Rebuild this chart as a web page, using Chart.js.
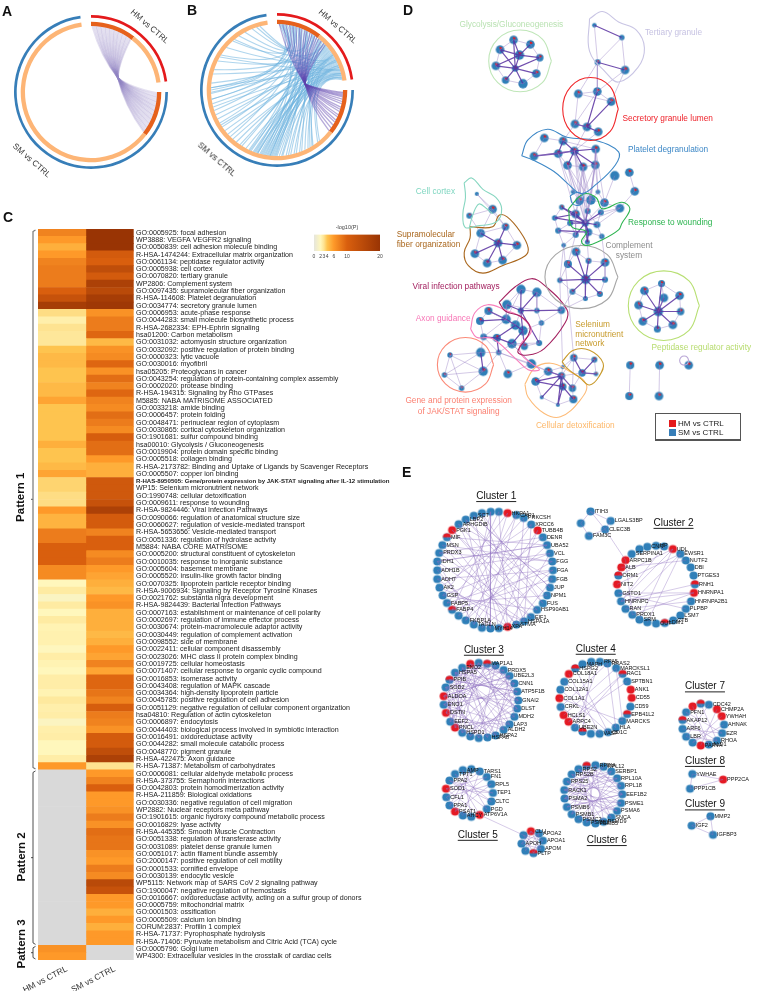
<!DOCTYPE html>
<html>
<head>
<meta charset="utf-8">
<title>Pathway enrichment figure</title>
<script src="https://cdn.jsdelivr.net/npm/chart.js@4"></script>
<style>
  html, body { margin: 0; padding: 0; background: #fff; }
  #page { position: relative; width: 759px; height: 991px; overflow: hidden; font-family: "Liberation Sans", Arial, sans-serif; }
  #page canvas { position: absolute; }
  .letter { position: absolute; font-weight: bold; font-size: 14px; color: #111; line-height: 14px; }
  .arcname { position: absolute; font-size: 8.3px; color: #333; white-space: nowrap; transform: translate(-50%, -50%) rotate(41deg); }
  #key { position: absolute; left: 655px; top: 413px; width: 84px; height: 25px; border: 1px solid #555; border-bottom-width: 2px; font-size: 8px; color: #222; }
  #key i { position: absolute; left: 13px; width: 7px; height: 7px; }
  #key span { position: absolute; left: 22px; line-height: 9px; }
</style>
</head>
<body>
<div id="page">
  <canvas id="chordA" style="left:6px;top:7px"></canvas>
  <canvas id="chordB" style="left:192px;top:5px"></canvas>
  <canvas id="heat" style="left:0;top:222px"></canvas>
  <canvas id="scaleBar" style="left:300px;top:224px"></canvas>
  <canvas id="networkD" style="left:390px;top:0"></canvas>
  <canvas id="networkE" style="left:390px;top:455px"></canvas>
  <div class="letter" style="left:2px;top:4px">A</div>
  <div class="letter" style="left:187px;top:3px">B</div>
  <div class="letter" style="left:3px;top:210px">C</div>
  <div class="letter" style="left:403px;top:3px">D</div>
  <div class="letter" style="left:402px;top:465px">E</div>
  <div class="arcname" style="left:150px;top:26px">HM vs CTRL</div>
  <div class="arcname" style="left:32px;top:160px">SM vs CTRL</div>
  <div class="arcname" style="left:338px;top:26px">HM vs CTRL</div>
  <div class="arcname" style="left:217px;top:159px">SM vs CTRL</div>
  <div id="key">
    <i style="top:6px;background:#e41a1c"></i><span style="top:5px">HM vs CTRL</span>
    <i style="top:15px;background:#377eb8"></i><span style="top:14px">SM vs CTRL</span>
  </div>
</div>
<script>
Chart.defaults.animation = false;
Chart.defaults.font.family = '"Liberation Sans", Arial, sans-serif';
Chart.defaults.plugins.legend.display = false;
Chart.defaults.plugins.tooltip.enabled = false;

// ---- panels A, B: arc lengths in degrees, clockwise from 12 o'clock
const outerArc = [82, 8, 262, 8];
const innerArc = [38, 44, 8, 38, 224, 8];
const outerColors = ['#e41a1c', 'rgba(0,0,0,0)', '#377eb8', 'rgba(0,0,0,0)'];
const innerColors = ['#e6611c', '#fdb576', 'rgba(0,0,0,0)', '#e6611c', '#fdb576', 'rgba(0,0,0,0)'];

// shared genes, HM end and SM end of each chord
const sharedHm = [1, 2.5, 4, 5, 6.5, 8, 9, 10.5, 12, 13, 14.5, 16, 17, 18.5, 20, 21, 22.5, 24, 25, 26.5, 28, 29, 30.5, 32, 33, 34.5, 36, 37];
const sharedSm = [127, 126, 124.5, 123, 122, 120.5, 119, 118, 116.5, 115, 114, 112.5, 111, 110, 108.5, 107, 106, 104.5, 103, 102, 100.5, 99, 98, 96.5, 95, 94, 92.5, 91];

// wider overlap of panel B: HM end and SM end of each blue chord
const blueHm = [3, 5, 7, 9, 11, 13, 14, 16, 18, 20, 21, 23, 25, 27, 28, 30, 32, 34, 35, 37, 39, 40, 42, 43, 45, 46, 48, 49, 50, 51, 52, 53, 54, 55, 56, 57, 58, 59, 60, 61, 62, 63, 64, 64.5, 65, 66, 67, 68, 68.5, 69, 70, 71, 72, 72.5, 73, 74, 75, 75.5, 76, 77, 77.5, 78, 79, 79.5, 80, 81, 4, 12, 19, 26, 33, 41, 47, 58, 63, 70, 76, 2, 6, 15];
const blueSm = [345, 331, 318, 302, 270, 252, 240, 225, 205, 190, 181, 172, 158, 147, 338, 288, 262, 236, 212, 197, 186, 176, 163, 150, 325, 296, 276, 258, 244, 228, 214, 201, 193, 184, 178, 168, 155, 142, 342, 310, 284, 268, 248, 232, 218, 204, 194, 187, 180, 170, 160, 148, 320, 300, 272, 255, 238, 222, 208, 198, 189, 183, 175, 165, 152, 140, 192, 199, 186, 203, 195, 188, 182, 200, 191, 185, 197, 267, 272, 262];
const purpleHm = [2, 5, 8, 11, 14, 17, 20, 22, 25, 27, 30, 32, 35, 37, 39, 42, 45, 47];
const purpleSm = [128, 125, 122, 119, 117, 114, 112, 109, 107, 105, 102, 100, 98, 96, 95, 94, 93, 92];

// ---- panel C: -log10(P) per term, null means not enriched
const termLabels = [
  'GO:0005925: focal adhesion', 'WP3888: VEGFA VEGFR2 signaling', 'GO:0050839: cell adhesion molecule binding',
  'R-HSA-1474244: Extracellular matrix organization', 'GO:0061134: peptidase regulator activity', 'GO:0005938: cell cortex',
  'GO:0070820: tertiary granule', 'WP2806: Complement system', 'GO:0097435: supramolecular fiber organization',
  'R-HSA-114608: Platelet degranulation', 'GO:0034774: secretory granule lumen', 'GO:0006953: acute-phase response',
  'GO:0044283: small molecule biosynthetic process', 'R-HSA-2682334: EPH-Ephrin signaling', 'hsa01200: Carbon metabolism',
  'GO:0031032: actomyosin structure organization', 'GO:0032092: positive regulation of protein binding', 'GO:0000323: lytic vacuole',
  'GO:0030016: myofibril', 'hsa05205: Proteoglycans in cancer', 'GO:0043254: regulation of protein-containing complex assembly',
  'GO:0002020: protease binding', 'R-HSA-194315: Signaling by Rho GTPases', 'M5885: NABA MATRISOME ASSOCIATED',
  'GO:0033218: amide binding', 'GO:0006457: protein folding', 'GO:0048471: perinuclear region of cytoplasm',
  'GO:0030865: cortical cytoskeleton organization', 'GO:1901681: sulfur compound binding', 'hsa00010: Glycolysis / Gluconeogenesis',
  'GO:0019904: protein domain specific binding', 'GO:0005518: collagen binding', 'R-HSA-2173782: Binding and Uptake of Ligands by Scavenger Receptors',
  'GO:0005507: copper ion binding', 'R-HAS-8950505: Gene/protein expression by JAK-STAT signaling after IL-12 stimulation', 'WP15: Selenium micronutrient network',
  'GO:1990748: cellular detoxification', 'GO:0009611: response to wounding', 'R-HSA-9824446: Viral Infection Pathways',
  'GO:0090066: regulation of anatomical structure size', 'GO:0060627: regulation of vesicle-mediated transport', 'R-HSA-5653656: Vesicle-mediated transport',
  'GO:0051336: regulation of hydrolase activity', 'M5884: NABA CORE MATRISOME', 'GO:0005200: structural constituent of cytoskeleton',
  'GO:0010035: response to inorganic substance', 'GO:0005604: basement membrane', 'GO:0005520: insulin-like growth factor binding',
  'GO:0070325: lipoprotein particle receptor binding', 'R-HSA-9006934: Signaling by Receptor Tyrosine Kinases', 'GO:0021762: substantia nigra development',
  'R-HSA-9824439: Bacterial Infection Pathways', 'GO:0007163: establishment or maintenance of cell polarity', 'GO:0002697: regulation of immune effector process',
  'GO:0030674: protein-macromolecule adaptor activity', 'GO:0030449: regulation of complement activation', 'GO:0098552: side of membrane',
  'GO:0022411: cellular component disassembly', 'GO:0023026: MHC class II protein complex binding', 'GO:0019725: cellular homeostasis',
  'GO:0071407: cellular response to organic cyclic compound', 'GO:0016853: isomerase activity', 'GO:0043408: regulation of MAPK cascade',
  'GO:0034364: high-density lipoprotein particle', 'GO:0045785: positive regulation of cell adhesion', 'GO:0051129: negative regulation of cellular component organization',
  'hsa04810: Regulation of actin cytoskeleton', 'GO:0006897: endocytosis', 'GO:0044403: biological process involved in symbiotic interaction',
  'GO:0016491: oxidoreductase activity', 'GO:0044282: small molecule catabolic process', 'GO:0048770: pigment granule',
  'R-HSA-422475: Axon guidance', 'R-HSA-71387: Metabolism of carbohydrates', 'GO:0006081: cellular aldehyde metabolic process',
  'R-HSA-373755: Semaphorin interactions', 'GO:0042803: protein homodimerization activity', 'R-HSA-211859: Biological oxidations',
  'GO:0030336: negative regulation of cell migration', 'WP2882: Nuclear receptors meta pathway', 'GO:1901615: organic hydroxy compound metabolic process',
  'GO:0016829: lyase activity', 'R-HSA-445355: Smooth Muscle Contraction', 'GO:0051338: regulation of transferase activity',
  'GO:0031089: platelet dense granule lumen', 'GO:0051017: actin filament bundle assembly', 'GO:2000147: positive regulation of cell motility',
  'GO:0001533: cornified envelope', 'GO:0030139: endocytic vesicle', 'WP5115: Network map of SARS CoV 2 signaling pathway',
  'GO:1900047: negative regulation of hemostasis', 'GO:0016667: oxidoreductase activity, acting on a sulfur group of donors', 'GO:0005759: mitochondrial matrix',
  'GO:0001503: ossification', 'GO:0005509: calcium ion binding', 'CORUM:2837: Profilin 1 complex',
  'R-HSA-71737: Pyrophosphate hydrolysis', 'R-HSA-71406: Pyruvate metabolism and Citric Acid (TCA) cycle', 'GO:0005796: Golgi lumen',
  'WP4300: Extracellular vesicles in the crosstalk of cardiac cells'
];
const hmValues = [
  7.5, 6, 5, 6, 7.5, 8, 8, 8, 10, 13, 18,
  3.2, 2.4, 3, 2.8, 2.8, 4, 4.5, 4.5, 4, 4, 4.5, 4.5, 5.5, 4, 4, 4, 4, 4, 5, 4, 4, 4.5, 5.5,
  3.5, 3.5, 3.2, 3.2, 6, 4.8, 4.8, 8, 8, 10, 10, 10, 7, 7,
  2, 2.6, 1.6, 2.6, 2, 2.6, 2.2, 2.3, 2.3, 1.9, 2.5, 2.2, 2, 2.5, 2.5, 2.2, 2.7, 2.4, 2.5, 1.7, 2.4, 2.5, 2, 2, 2.5, 6,
  null, null, null, null, null, null, null, null, null, null, null, null, null, null, null, null, null, null, null, null, null, null, null, null,
  6.5, 6
];
const smValues = [
  20, 20, 20, 11, 10, 14, 11, 17, 15, 18, 19,
  6.5, 8, 8, 9.5, 4.5, 6.5, 7, 9.5, 6.5, 9, 7.5, 9.5, 7.5, 7, 9, 8, 7, 10.5, 9, 9, 6, 5, 5,
  11.5, 11.5, 11.5, 13, 17, 11, 11, 7.5, 10, 10, 7, 8, 6, 5.5,
  5, 4.5, 6, 6.5, 5, 5, 5, 4.5, 5, 6, 5.5, 7.5, 5.5, 9.5, 9.5, 8.5, 7.5, 10.5, 8, 7.5, 6.5, 11, 11, 14, 17, 3,
  6, 7.5, 10, 6, 6, 6.5, 8, 6.5, 9, 8.5, 8.5, 6.5, 6, 8, 7, 15, 13, 6, 6, 5, 6, 5, 6, 6,
  null, null
];
const heatColumns = ['HM vs CTRL', 'SM vs CTRL'];
const patternNames = ['Pattern 1', 'Pattern 2', 'Pattern 3'];
const patternFirstRow = [0, 74, 98];
const patternLastRow = [73, 97, 99];
const patternLabelRow = [36.2, 85.4, 97.3];
const scaleTicks = [0, 2, 3, 4, 6, 10, 20];
const scaleStops = [0, 2, 3, 4, 6, 10, 20];
const scaleColors = ['#e6e6dc', '#fff7bc', '#fee391', '#fec44f', '#fe9929', '#d95f0e', '#993404'];

// ---- panel D: nodes are [x, y, radius, kind]; b plain, w carries a red HM wedge
const glyNodes = [[365,105,4.3,'w'],[417,119,4.3,'w'],[323,135,4.3,'w'],[383,152,4.7,'w'],[446,160,3.7,'w'],[310,185,4.3,'w'],[370,193,3.3,'w'],[435,209,4.3,'w'],[340,229,3.7,'w'],[394,240,4.7,'b']];
const terNodes = [[615,60,2.3,'b'],[700,98,2.7,'b'],[625,174,3,'w'],[710,198,4.3,'w']];
const secNodes = [[565,271,4.3,'w'],[624,264,4.3,'w'],[667,295,4.3,'w'],[555,364,4.3,'w'],[592,373,4.3,'w'],[627,388,4.3,'w']];
const pltNodes = [[460,407,4.3,'w'],[518,416,4.3,'w'],[503,455,4.3,'w'],[553,447,4.3,'w'],[619,441,4.3,'w'],[428,463,4.3,'w'],[532,491,4.3,'w'],[580,496,4.3,'w'],[618,490,4.3,'w']];
const topNodes = [[678,523,4.7,'b'],[723,513,4.3,'w'],[740,571,4.3,'w']];
const midNodes = [[549,573,2.3,'b'],[626,573,2.3,'b'],[569,600,4.3,'w'],[604,598,4.7,'b'],[646,606,4.3,'w'],[694,623,4.3,'b'],[514,620,2.7,'w'],[557,641,4.3,'w'],[594,632,3,'w'],[635,636,3,'b'],[492,653,2.7,'b'],[540,669,3,'b'],[587,668,3.7,'b'],[623,674,3.3,'b'],[503,692,3,'b'],[557,705,3,'b'],[597,697,3.7,'b'],[638,710,2.7,'b'],[593,727,2.5,'w'],[520,737,2.3,'b']];
const corNodes = [[251,579,2,'b'],[300,626,4.3,'w'],[228,646,3,'w']];
const supNodes = [[263,700,4.3,'b'],[340,680,3.7,'w'],[317,730,4.3,'w'],[375,737,4.3,'w'],[245,763,4.3,'w'],[283,792,4.3,'w'],[331,783,4.3,'w']];
const comNodes = [[558,757,4.3,'w'],[533,795,4,'w'],[597,785,3,'w'],[648,790,4.3,'w'],[508,845,2.7,'w'],[588,842,4.7,'w'],[648,843,3,'b'],[547,880,3,'w'],[632,887,3,'w'],[587,901,2.5,'b']];
const pepNodes = [[823,855,3.5,'w'],[770,877,4.3,'w'],[879,892,4.3,'w'],[830,899,4.3,'b'],[752,921,4.3,'w'],[813,941,4.7,'w'],[882,941,3.7,'w'],[765,971,4.3,'w'],[858,982,4.3,'w'],[810,995,3.5,'w']];
const virNodes = [[388,873,4.7,'b'],[437,882,4.7,'b'],[344,920,4.7,'b'],[387,938,3,'b'],[437,938,2.7,'b'],[513,937,3.7,'b'],[451,976,2.7,'b'],[444,1038,3,'b'],[398,1048,3.7,'w']];
const axoNodes = [[287,939,4,'w'],[261,970,4,'w'],[342,965,4.7,'b'],[371,983,4.7,'b'],[394,1000,4.7,'b'],[272,1019,3.3,'b'],[313,1022,4,'w'],[360,1040,4.7,'b'],[319,1067,2.7,'b'],[420,1102,4.7,'b'],[347,1133,4.3,'w']];
const jakNodes = [[263,1067,4.7,'b'],[168,1075,2.7,'w'],[271,1125,4.7,'w'],[151,1136,2.7,'w'],[204,1177,2.7,'w']];
const selNodes = [[551,1083,3.7,'w'],[615,1089,3,'w'],[577,1130,3.7,'w'],[620,1133,2.3,'w'],[517,1112,2,'b']];
const detNodes = [[472,1125,4.3,'w'],[433,1156,4.3,'w'],[513,1139,3.7,'w'],[517,1172,3.7,'w'],[547,1177,3.7,'w'],[452,1205,2,'b'],[502,1228,2,'b'],[550,1211,4,'w']];
const pairNodes = [[726,1106,4,'w'],[723,1201,4,'w'],[817,1106,4.3,'w'],[815,1201,4.3,'w'],[907,1106,4.3,'w']];

const strongEdges = {
  gly: [[3,0],[3,1],[3,2],[3,4],[3,6],[3,5],[6,0],[6,5],[6,7],[6,8],[6,9],[6,2],[6,4]],
  sec: [[1,4],[2,4],[4,5],[3,4]],
  plt: [[3,1],[3,2],[3,4],[3,5],[3,6],[3,7],[3,8],[2,5],[2,1]],
  mid: [[12,7],[12,8],[12,11],[12,13],[12,15],[12,16],[12,18],[12,10],[12,6],[12,9],[7,10],[7,6],[16,18],[16,14]],
  sup: [[2,0],[2,1],[2,3],[2,4],[2,5],[2,6]],
  com: [[5,0],[5,1],[5,2],[5,3],[5,4],[5,6],[5,7],[5,8],[5,9]],
  pep: [[5,0],[5,1],[5,2],[5,3],[5,4],[5,6],[5,7],[5,8],[5,9]],
  vir: [[0,3],[1,3],[3,4],[4,5],[2,3],[3,7],[3,8]],
  axo: [[0,2],[1,2],[2,3],[3,4],[3,6],[6,7],[4,7],[5,6],[6,8]],
  jak: [[0,2]],
  sel: [[0,2],[2,3],[1,2]],
  det: [[2,0],[2,1],[2,3],[2,4],[2,5],[2,6],[3,7],[3,1],[3,6]],
  ter: [[0,1],[2,3]]
};
const weakEdges = {
  gly: [[0,1],[1,4],[4,7],[7,9],[9,8],[8,5],[5,2],[2,0]],
  ter: [[0,2],[1,2],[1,3]],
  sec: [[0,1],[0,2],[1,2],[0,3],[3,4],[1,3]],
  plt: [[0,1],[0,5],[4,8],[6,7],[7,8],[2,6],[1,4],[5,3]],
  mid: [[2,3],[3,4],[4,5],[2,7],[3,8],[4,9],[5,9],[0,2],[1,3],[1,4],[6,10],[10,14],[14,19],[15,19],[17,13],[5,13],[11,14],[16,17],[2,12],[3,12],[4,12],[5,12],[8,13],[7,15],[11,15],[9,13],[14,15]],
  sup: [[0,1],[0,4],[4,5],[5,6],[6,3],[1,3]],
  com: [[0,1],[0,2],[2,3],[3,6],[6,8],[8,9],[9,7],[7,4],[4,1]],
  pep: [[0,1],[0,2],[1,4],[2,6],[4,7],[6,8],[7,9],[8,9],[3,0],[3,5]],
  vir: [[0,1],[0,2],[1,5],[5,6],[6,7],[7,8],[2,4],[1,4],[4,6]],
  axo: [[0,1],[1,5],[5,8],[7,9],[8,9],[8,7],[9,10],[0,3],[2,5]],
  jak: [[0,1],[1,3],[3,4],[4,2],[1,2],[0,3],[3,2],[1,4]],
  sel: [[0,1],[1,3],[0,4],[3,2]],
  det: [[0,1],[0,2],[1,5],[5,6],[6,7],[7,4],[4,2]],
  pair: [[0,1],[2,3]]
};
// links between two modules: group, node, group, node
const crossEdges = [
  ['ter',2,'sec',0],['ter',2,'sec',1],['ter',3,'sec',1],['ter',3,'sec',2],['sec',5,'plt',3],['sec',4,'plt',3],['sec',3,'plt',1],
  ['plt',6,'mid',0],['plt',6,'mid',2],['plt',6,'mid',3],['plt',7,'mid',2],['plt',7,'mid',3],['plt',7,'mid',8],['plt',8,'mid',3],['plt',8,'mid',1],
  ['plt',3,'mid',2],['plt',3,'mid',3],['plt',3,'mid',12],['plt',2,'mid',0],['plt',2,'mid',7],['plt',4,'mid',1],['plt',4,'mid',3],['plt',8,'mid',8],['plt',6,'mid',12],['plt',7,'mid',12],
  ['plt',3,'mid',8],['plt',7,'mid',7],['plt',8,'mid',2],['plt',4,'mid',4],['plt',6,'mid',8],['plt',8,'mid',12],
  ['top',1,'top',2],['top',0,'mid',4],['top',2,'mid',5],
  ['cor',1,'sup',0],['cor',1,'sup',1],['cor',2,'sup',0],['cor',0,'cor',1],['cor',0,'sup',1],['cor',2,'cor',1],
  ['mid',19,'com',4],['mid',18,'com',2],['mid',16,'com',0],['mid',15,'com',1],['mid',17,'com',3],
  ['mid',19,'sel',0],['com',4,'sel',4],['com',7,'vir',5],['vir',5,'com',9],
  ['vir',2,'axo',2],['vir',3,'axo',3],['vir',7,'axo',7],['vir',8,'axo',4],['vir',6,'axo',4],['vir',8,'axo',7],['vir',0,'axo',2],
  ['axo',5,'jak',0],['axo',8,'jak',0],['axo',8,'jak',2],['axo',8,'axo',10],['axo',9,'det',0],['axo',8,'det',0],['axo',7,'axo',9],
  ['sel',0,'det',2],['sel',4,'det',2],['sel',2,'det',4],['sel',0,'det',4],['sel',2,'det',2],['sel',4,'det',0]
];
const groupNodes = { gly: glyNodes, ter: terNodes, sec: secNodes, plt: pltNodes, top: topNodes, mid: midNodes, cor: corNodes, sup: supNodes, com: comNodes, pep: pepNodes, vir: virNodes, axo: axoNodes, jak: jakNodes, sel: selNodes, det: detNodes, pair: pairNodes };

// module outlines, closed by repeating the first point
const moduleOutlines = [
  ['#bfe6b8', [[482,170],[454,237],[385,265],[316,237],[288,170],[316,103],[385,75],[454,103],[482,170]]],
  ['#c9c5e4', [[600,40],[640,18],[690,50],[745,75],[770,130],[750,190],[690,235],[650,205],[600,140],[600,40]]],
  ['#f0272a', [[689,318],[664,387],[603,415],[542,387],[517,318],[542,249],[603,221],[664,249],[689,318]]],
  ['#3c87c6', [[390,462],[410,412],[470,380],[530,405],[620,415],[690,450],[680,490],[620,550],[575,578],[530,545],[490,510],[430,477],[390,462]]],
  ['#3c87c6', [[540,585],[560,575],[580,585],[572,612],[548,610],[540,585]]],
  ['#2cb44f', [[535,625],[580,580],[620,590],[640,625],[700,605],[725,625],[700,670],[690,690],[640,720],[590,738],[575,725],[590,695],[545,680],[535,625]]],
  ['#86d6c0', [[212,545],[235,530],[270,565],[310,590],[328,625],[312,665],[250,678],[215,682],[208,640],[216,590],[212,545]]],
  ['#86d6c0', [[228,682],[240,640],[258,610],[282,625],[300,640]]],
  ['#a9661c', [[230,680],[300,680],[320,645],[345,650],[385,695],[410,745],[400,770],[330,800],[270,823],[225,800],[212,760],[230,715],[230,680]]],
  ['#a6a6a6', [[688,835],[655,904],[575,932],[495,904],[462,835],[495,766],[575,738],[655,766],[688,835]]],
  ['#b7df72', [[940,923],[908,999],[830,1030],[752,999],[720,923],[752,847],[830,816],[908,847],[940,923]]],
  ['#a3205f', [[320,913],[370,865],[420,840],[460,860],[530,935],[525,975],[460,1055],[410,1075],[378,1065],[410,1015],[415,985],[385,955],[340,940],[320,913]]],
  ['#f87fbc', [[232,995],[245,945],[285,920],[340,937],[390,960],[420,1000],[385,1045],[390,1075],[420,1100],[445,1120],[410,1120],[370,1085],[300,1025],[250,1020],[232,995]]],
  ['#fb8a78', [[303,1105],[278,1164],[216,1189],[154,1164],[129,1105],[154,1046],[216,1021],[278,1046],[303,1105]]],
  ['#c89a2c', [[515,1095],[550,1060],[600,1060],[642,1100],[630,1140],[600,1167],[570,1145],[530,1115],[515,1095]]],
  ['#fdbb78', [[400,1165],[430,1115],[480,1100],[530,1120],[590,1165],[570,1215],[510,1265],[460,1255],[410,1205],[400,1165]]],
  ['#b9a6d6', [[907,1092],[903,1102],[893,1106],[883,1102],[879,1092],[883,1082],[893,1078],[903,1082],[907,1092]]]
];
const moduleLabels = [
  ['Glycolysis/Gluconeogenesis', 358, 57, '#b9e2b2', 'center'], ['Tertiary granule', 860, 82, '#c6c2e2', 'center'],
  ['Secretory granule lumen', 842, 349, '#ee1c25', 'center'], ['Platelet degranulation', 843, 444, '#3c87c6', 'center'],
  ['Cell cortex', 123, 573, '#7fd6c0', 'center'], ['Response to wounding', 850, 668, '#2cb44f', 'center'],
  ['Supramolecular', 0, 705, '#a9661c', 'left'], ['fiber organization', 0, 735, '#a9661c', 'left'],
  ['Complement', 722, 739, '#8c8c8c', 'center'], ['system', 722, 770, '#8c8c8c', 'center'],
  ['Viral infection pathways', 187, 865, '#a3205f', 'center'], ['Axon guidance', 147, 963, '#f776b6', 'center'],
  ['Selenium', 553, 981, '#c79a2a', 'left'], ['micronutrient', 553, 1011, '#c79a2a', 'left'], ['network', 553, 1041, '#c79a2a', 'left'],
  ['Peptidase regulator activity', 946, 1052, '#b7dc6f', 'center'],
  ['Gene and protein expression', 195, 1217, '#fb8072', 'center'], ['of JAK/STAT signaling', 195, 1248, '#fb8072', 'center'],
  ['Cellular detoxification', 556, 1291, '#fdb768', 'center']
];

// ---- panel E: nodes are [x, y, kind, gene]; b SM only, r both, h half and half
const cluster1 = [[295,158,'b',''],[320,158,'b',''],[347,162,'r','HKPA1'],[374,168,'b','CAP1'],[397,177,'b','PRKCSH'],[420,197,'b','XRCC6'],[440,215,'r','TUBB4B'],[456,236,'b','DENR'],[469,260,'b','UBA52'],[478,285,'b','VCL'],[485,310,'b','FGG'],[487,337,'b','FGA'],[485,364,'b','FGB'],[478,390,'b','JUP'],[469,414,'b','NPM1'],[456,438,'b','FUS'],[438,458,'b','HSP90AB1'],[419,480,'b','EIF1'],[398,493,'b','HSPA1A'],[374,503,'b','STMA'],[347,510,'r','XPA'],[320,514,'b',''],[294,515,'b','MYH14'],[268,513,'b',''],[243,503,'b','TAGLN'],[218,490,'b','FKBP1A'],[196,476,'b',''],[176,458,'h','FABP4'],[160,437,'b','FABP5'],[147,414,'b','GSP'],[137,390,'b','AK2'],[130,364,'b','ADH7'],[130,337,'b','ADH1B'],[130,310,'b','IDH1'],[136,284,'b','PRDX3'],[146,260,'b','MSN'],[160,236,'h','MIF'],[176,214,'r','PGK1'],[196,196,'b','ARHGDIB'],[218,182,'b','LBP2'],[243,170,'b','SCT'],[268,162,'b','']];
const cluster1Links = [[0,22],[1,20],[2,24],[3,26],[4,28],[5,30],[6,21],[7,34],[8,36],[8,33],[9,32],[10,35],[11,31],[12,38],[13,40],[14,39],[15,41],[16,37],[17,34],[18,33],[19,36],[20,38],[21,40],[22,39],[23,3],[24,6],[25,8],[26,10],[27,12],[28,14],[29,16],[30,18],[31,20],[32,22],[33,24],[35,19],[37,17],[38,16],[39,15],[41,18],[40,13],[0,25],[1,27],[2,29],[4,19],[5,18],[9,20],[11,23],[12,19],[29,9],[27,7],[25,5],[33,8],[34,10],[28,11]];
const cluster2 = [[730,287,'b','SERPINA1'],[754,272,'b',''],[778,265,'b','CNN'],[805,262,'b','HP'],[830,264,'b',''],[857,272,'r','UDL'],[880,287,'b','EWSR1'],[897,307,'b','NUTF2'],[912,328,'b','DBI'],[921,353,'b','PTGES3'],[925,380,'h','RNH1'],[922,406,'r','HNRNPA1'],[913,432,'b','HNRNPA2B1'],[897,455,'b','PLPBP'],[880,475,'b','LSM7'],[858,490,'b','CTB'],[832,498,'h','LDM1'],[805,500,'b','OUT'],[778,496,'b',''],[754,488,'b','SRM'],[732,473,'b','PRDX1'],[711,455,'b','RAN'],[697,432,'b','HNRNPC'],[689,407,'b','GSTO1'],[685,380,'r','NIT2'],[689,353,'h','ORM1'],[698,328,'r','ALB'],[711,306,'r','ARPC1B']];
const cluster2Links = [[5,25],[6,24],[5,22],[6,21],[11,22],[11,23],[12,21],[10,22],[13,23],[7,26],[27,20],[4,22],[5,19],[6,18],[11,20]];
const cluster2b = [[603,157,'b','ITIH3'],[665,186,'b','LGALS3BP'],[573,193,'b',''],[648,212,'b','CLEC3B'],[598,232,'b','FAM3C']];
const cluster2bLinks = [[0,1],[0,2],[2,4],[4,3],[3,1],[0,3]];
const cluster3 = [[232,623,'r',''],[258,620,'b',''],[284,623,'h','MAP1A1'],[310,628,'b',''],[335,642,'b','PRDX5'],[353,660,'b','UBE2L3'],[368,683,'b','CNN1'],[377,708,'b','ATP5F1B'],[380,735,'b','GNAI2'],[377,760,'b','DLST'],[368,785,'b','MDH2'],[353,808,'b','LAP3'],[335,825,'b','ALDH2'],[310,842,'b','HSPA2'],[285,848,'b','HSPA8'],[258,850,'b',''],[232,845,'b',''],[207,834,'b','HSPD1'],[185,818,'r','PNCL'],[170,800,'b','EEF2'],[157,773,'r','DSTN'],[150,748,'b','ENO1'],[150,722,'r','ALDOA'],[156,695,'b','SOD2'],[168,672,'h','PPIB'],[185,650,'b','HSPA5'],[207,635,'b','ENO2']];
const cluster3Links = [[0,5],[0,9],[0,14],[0,20],[1,7],[1,11],[1,17],[1,22],[2,6],[2,12],[2,19],[2,24],[3,8],[3,15],[3,21],[3,25],[4,10],[4,16],[4,23],[4,26],[5,13],[5,18],[5,22],[6,14],[6,20],[6,25],[7,15],[7,21],[7,24],[8,16],[8,22],[8,26],[9,17],[9,23],[9,0],[10,18],[10,24],[10,25],[11,19],[11,25],[11,21],[12,20],[12,26],[12,23],[13,21],[13,24],[14,22],[14,26],[15,23],[15,25],[16,24],[16,20],[17,25],[17,22],[18,26],[18,23],[19,24],[19,3],[20,1],[21,4],[22,5],[23,6],[24,7],[25,8],[26,9],[16,6],[17,5],[18,2],[19,1],[13,26]];
const cluster4 = [[605,617,'b',''],[632,617,'b','RPA5'],[655,622,'b','RRAS2'],[682,636,'b','MARCKSL1'],[702,654,'h','RAC1'],[716,677,'b','SPTBN1'],[727,702,'r','ANK1'],[730,727,'r','CD55'],[726,754,'b','CD59'],[716,777,'h','EPB41L2'],[701,798,'b','MARCKS'],[681,818,'b','HLA'],[657,832,'b','CD1C'],[631,837,'b','VASP'],[604,837,'b',''],[578,830,'h',''],[555,818,'b','UBE2N'],[535,800,'r','ARPC4'],[520,780,'r','HCLS1'],[511,755,'b','CRKL'],[507,728,'r','COL1A1'],[510,702,'b','COL12A1'],[522,678,'b','COL15A1'],[536,654,'r','COL18A1'],[556,637,'h','HSPG2'],[578,624,'b','MAPH']];
const cluster4Links = [[3,18],[4,17],[2,19],[1,16],[24,12],[23,13],[22,11],[21,12],[20,10],[3,10],[2,11],[4,16],[5,17],[19,13],[0,15]];
const cluster5 = [[235,945,'b',''],[209,948,'b','AMP'],[261,952,'b','TARS1'],[185,960,'b','TPT1'],[283,969,'b','FN1'],[168,980,'b','PPA2'],[297,991,'b','RPL5'],[157,1005,'r','SOD1'],[302,1018,'b','TEP1'],[158,1031,'b','CFL1'],[297,1044,'b','CLTC'],[168,1056,'b','PPA1'],[283,1067,'b','PGD'],[185,1075,'r','PSAT1'],[261,1085,'r','ATP6V1A'],[209,1087,'b','AHCY'],[235,1091,'b','']];
const cluster5Links = [[0,11],[1,12],[2,9],[3,10],[4,7],[5,8],[6,13],[7,14],[9,15],[11,16],[0,13],[2,15],[4,11],[5,12],[3,14],[1,16],[6,9],[8,7],[10,5]];
const cluster5b = [[419,1135,'r','CLU'],[444,1142,'b','APOA2'],[396,1147,'b',''],[456,1164,'b','APOA1'],[390,1173,'b','APOH'],[450,1189,'b','APOM'],[402,1195,'b',''],[427,1202,'h','PLTP']];
const cluster5bLinks = [[0,3],[0,5],[0,6],[1,4],[1,6],[2,3],[2,5],[3,7],[4,5],[1,7],[2,7],[0,4]];
const cluster6 = [[591,935,'h',''],[618,933,'b','RPPIA'],[643,938,'b','RPL12'],[667,952,'b','SERBP1'],[685,973,'b','RPL10A'],[697,996,'b','RPL18'],[701,1022,'b','EEF1B2'],[697,1049,'b','PSME1'],[685,1073,'b','PSMA6'],[667,1093,'b','SNCA'],[643,1106,'b','PSMD9'],[618,1111,'b','PSMB5'],[591,1108,'b','PSMB2'],[566,1098,'b','PSMC2'],[545,1083,'b','PSMB1'],[530,1061,'b','PSMB6'],[523,1035,'b','PSMA2'],[522,1009,'b','RACK1'],[530,983,'b','RPS25'],[545,961,'b','RPS2B'],[566,945,'b','RPS2']];
const cluster6Links = [[0,11],[1,12],[2,14],[3,15],[4,16],[5,17],[6,18],[7,19],[8,20],[9,0],[10,1],[0,14],[1,16],[2,17],[3,18],[4,19],[5,20],[6,15],[7,16],[8,17],[9,18],[10,19],[11,20],[12,3],[13,4],[14,5],[15,6],[16,8],[17,7],[18,8],[19,9],[13,7],[20,6],[12,6],[3,16],[4,17],[0,5],[1,6]];
const cluster7 = [[943,745,'h',''],[968,748,'b','CDC42'],[993,762,'r','CHMP2A'],[1008,783,'r','YWHAH'],[1015,809,'b','AHNAK'],[1009,835,'b','EZR'],[993,858,'b','RHOA'],[968,870,'b','ALD1'],[943,873,'r','PARVA'],[918,864,'b',''],[898,846,'b','LBR'],[887,822,'b','ARF6'],[887,795,'h','AKAP12'],[898,771,'b','PFN1'],[918,753,'r','']];
const cluster7Links = [[12,6],[13,7],[11,5],[10,6],[3,9],[2,8],[14,7],[0,6],[1,10],[4,9],[13,5]];
const cluster8 = [[917,960,'b','YWHAE'],[1012,977,'r','PPP2CA'],[910,1005,'b','PPP1CB']];
const cluster8Links = [[0,1],[0,2],[1,2]];
const cluster9 = [[973,1089,'b','MMP2'],[915,1118,'b','IGF2'],[981,1146,'b','IGFBP3']];
const cluster9Links = [[0,1],[0,2],[1,2]];
// the two threads that tie a side module to its cluster
const bridgeLinks = [[cluster2b[3], cluster2[27]], [cluster5[14], cluster5b[2]]];
const clusterTitles = [['Cluster 1',312,110],['Cluster 2',859,192],['Cluster 3',274,580],['Cluster 4',619,577],['Cluster 7',956,692],['Cluster 8',956,920],['Cluster 5',255,1146],['Cluster 6',653,1162],['Cluster 9',956,1053]];

function valueColor(v) {
  if (v === null) return '#d9d9d9';
  let i = 0;
  while (i < scaleStops.length - 2 && v > scaleStops[i + 1]) i++;
  const t = (v - scaleStops[i]) / (scaleStops[i + 1] - scaleStops[i]);
  const a = parseInt(scaleColors[i].slice(1), 16), b = parseInt(scaleColors[i + 1].slice(1), 16);
  const mix = s => Math.round(((a >> s) & 255) * (1 - t) + ((b >> s) & 255) * t);
  return `rgb(${mix(16)},${mix(8)},${mix(0)})`;
}

// chords are drawn from the doughnut's own geometry
function chordPlugin(layers) {
  return {
    id: 'chords',
    afterDatasetsDraw(chart) {
      const arc = chart.getDatasetMeta(2).data[0];
      const { x: cx, y: cy, innerRadius: r } = arc.getProps(['x', 'y', 'innerRadius']);
      const at = deg => {
        const a = (deg - 90) * Math.PI / 180;
        return [cx + r * Math.cos(a), cy + r * Math.sin(a)];
      };
      const ctx = chart.ctx;
      ctx.save();
      layers.forEach(layer => {
        ctx.strokeStyle = layer.color;
        ctx.lineWidth = layer.width;
        layer.from.forEach((deg, i) => {
          const p0 = at(deg), p2 = at(layer.to[i]);
          ctx.beginPath();
          ctx.moveTo(p0[0], p0[1]);
          if (layer.waist) {
            const w = [cx + layer.waist[0], cy + layer.waist[1]];
            ctx.quadraticCurveTo(p0[0] * 0.45 + cx * 0.2 + w[0] * 0.35, p0[1] * 0.45 + cy * 0.2 + w[1] * 0.35, w[0], w[1]);
            ctx.quadraticCurveTo(p2[0] * 0.45 + cx * 0.2 + w[0] * 0.35, p2[1] * 0.45 + cy * 0.2 + w[1] * 0.35, p2[0], p2[1]);
          } else {
            ctx.quadraticCurveTo(cx + layer.bend[0], cy + layer.bend[1], p2[0], p2[1]);
          }
          ctx.stroke();
        });
      });
      ctx.restore();
    }
  };
}

function chordChart(id, layers) {
  const el = document.getElementById(id);
  el.width = 170; el.height = 170;
  return new Chart(el, {
    type: 'doughnut',
    data: {
      datasets: [
        { data: outerArc, backgroundColor: outerColors, borderWidth: 0, weight: 2.7 },
        { data: [360], backgroundColor: ['rgba(0,0,0,0)'], borderWidth: 0, weight: 4 },
        { data: innerArc, backgroundColor: innerColors, borderWidth: 0, weight: 4.3 }
      ]
    },
    options: { responsive: false, radius: 77, cutout: '85.7%', layout: { padding: 0 } },
    plugins: [chordPlugin(layers)]
  });
}

chordChart('chordA', [
  { from: sharedHm, to: sharedSm, waist: [27, -14], color: 'rgba(125,105,185,0.14)', width: 1.6 },
  { from: sharedHm.slice().reverse(), to: sharedSm, waist: [27, -14], color: 'rgba(150,135,195,0.1)', width: 1.6 }
]);
chordChart('chordB', [
  { from: blueHm, to: blueSm, bend: [30, -18], color: 'rgba(110,178,222,0.55)', width: 1.1 },
  { from: purpleHm, to: purpleSm, waist: [28, -6], color: 'rgba(95,70,175,0.3)', width: 1.2 },
  { from: purpleHm.slice().reverse(), to: purpleSm, waist: [28, -6], color: 'rgba(95,70,175,0.22)', width: 1.2 }
]);

// panel C
const bracketPlugin = {
  id: 'brackets',
  afterDraw(chart) {
    const { ctx, scales: { y } } = chart;
    const half = (y.getPixelForValue(1) - y.getPixelForValue(0)) / 2;
    ctx.save();
    patternNames.forEach((name, i) => {
      const top = y.getPixelForValue(patternFirstRow[i]) - half + 1;
      const bot = y.getPixelForValue(patternLastRow[i]) + half - 1;
      ctx.strokeStyle = i === 0 ? '#777' : '#222';
      ctx.lineWidth = i === 0 ? 1.2 : 0.8;
      ctx.beginPath();
      ctx.moveTo(35.5, top); ctx.lineTo(33, top + 1.5); ctx.lineTo(33, bot - 1.5); ctx.lineTo(35.5, bot);
      ctx.moveTo(33, (top + bot) / 2); ctx.lineTo(31, (top + bot) / 2);
      ctx.stroke();
      ctx.save();
      ctx.translate(i === 0 ? 21 : 22, y.getPixelForValue(patternLabelRow[i]));
      ctx.rotate(-Math.PI / 2);
      ctx.fillStyle = '#111';
      ctx.font = 'bold 11.5px "Liberation Sans"';
      ctx.textAlign = 'center';
      ctx.textBaseline = 'middle';
      ctx.fillText(name, 0, 0);
      ctx.restore();
    });
    ctx.restore();
  }
};

const heatEl = document.getElementById('heat');
heatEl.width = 410; heatEl.height = 769;
new Chart(heatEl, {
  type: 'bar',
  data: {
    labels: termLabels,
    datasets: [
      { data: termLabels.map(() => [0, 1]), backgroundColor: c => valueColor(hmValues[c.dataIndex]), borderWidth: 0, grouped: false, barPercentage: 1, categoryPercentage: 1 },
      { data: termLabels.map(() => [1, 2]), backgroundColor: c => valueColor(smValues[c.dataIndex]), borderWidth: 0, grouped: false, barPercentage: 1, categoryPercentage: 1 }
    ]
  },
  options: {
    indexAxis: 'y',
    responsive: false,
    layout: { padding: { left: 38, top: 7, right: 0, bottom: 0 } },
    scales: {
      x: {
        type: 'linear', min: 0, max: 2,
        grid: { display: false }, border: { display: false },
        afterBuildTicks: s => { s.ticks = [{ value: 0.5 }, { value: 1.5 }]; },
        afterFit: s => { s.height = 31; },
        ticks: {
          autoSkip: false, minRotation: 27, maxRotation: 27, padding: -4, labelOffset: 5,
          color: '#333', font: { size: 8.5 },
          callback: v => heatColumns[v === 0.5 ? 0 : 1]
        }
      },
      y: {
        position: 'right',
        grid: { display: false, drawTicks: false }, border: { display: false },
        afterFit: s => { s.width = 276.3; },
        ticks: {
          autoSkip: false, padding: 2.3, color: '#222',
          font: c => (c.index === 34 ? { size: 6.1, weight: 'bold' } : { size: 7.1 })
        }
      }
    }
  },
  plugins: [bracketPlugin]
});

const barEl = document.getElementById('scaleBar');
barEl.width = 94; barEl.height = 40;
new Chart(barEl, {
  type: 'bar',
  data: {
    labels: ['-log10(P)'],
    datasets: [{
      data: [[0, 20]], barPercentage: 1, categoryPercentage: 1, borderWidth: 0,
      backgroundColor: c => {
        const x = c.chart.scales.x;
        if (!x || !Number.isFinite(x.left) || !Number.isFinite(x.right) || x.right <= x.left) return '#fe9929';
        const g = c.chart.ctx.createLinearGradient(x.left, 0, x.right, 0);
        scaleStops.forEach((v, i) => g.addColorStop(v / 20, scaleColors[i]));
        return g;
      }
    }]
  },
  options: {
    indexAxis: 'y',
    responsive: false,
    layout: { padding: { left: 14, right: 14, top: 0, bottom: 0 } },
    plugins: { title: { display: true, text: '-log10(P)', color: '#444', font: { size: 5.5, weight: 'normal' }, padding: { top: 0, bottom: 4 } } },
    scales: {
      x: {
        type: 'linear', min: 0, max: 20,
        grid: { display: false, drawTicks: true, tickLength: 2, tickColor: '#777' }, border: { display: false },
        afterBuildTicks: s => { s.ticks = scaleTicks.map(v => ({ value: v })); },
        afterFit: s => { s.height = 13; },
        ticks: { autoSkip: false, maxRotation: 0, padding: 1, color: '#444', font: { size: 5 } }
      },
      y: { display: false }
    }
  }
});

// panels D and E
function glyph(r, kind) {
  const key = r + kind;
  if (glyph.cache[key]) return glyph.cache[key];
  const c = document.createElement('canvas');
  c.width = c.height = Math.ceil(2 * r + 2);
  const g = c.getContext('2d'), m = c.width / 2;
  g.fillStyle = kind === 'r' ? '#e41a24' : '#2f7fb8';
  g.beginPath(); g.arc(m, m, r, 0, 2 * Math.PI); g.fill();
  if (kind === 'h') {
    g.fillStyle = '#e41a24';
    g.beginPath(); g.arc(m, m, r, Math.PI, 2 * Math.PI); g.fill();
  }
  if (kind === 'w') {
    g.fillStyle = '#e41a24';
    g.beginPath(); g.moveTo(m, m); g.arc(m, m, r * 0.65, -1.9, -0.5); g.fill();
  }
  glyph.cache[key] = c;
  return c;
}
glyph.cache = {};

function linkPoints(nodes, links) {
  const pts = [];
  links.forEach(([i, j]) => {
    pts.push({ x: nodes[i][0], y: nodes[i][1] }, { x: nodes[j][0], y: nodes[j][1] }, { x: NaN, y: NaN });
  });
  return pts;
}

function lineSet(data, color, width, extra) {
  return Object.assign({ type: 'scatter', data, showLine: true, borderColor: color, borderWidth: width, pointRadius: 0, clip: false, tension: 0 }, extra || {});
}

function netChart(id, w, h, xMax, yMax, datasets, plugin) {
  const el = document.getElementById(id);
  el.width = w; el.height = h;
  return new Chart(el, {
    type: 'scatter',
    data: { datasets },
    options: {
      responsive: false,
      layout: { padding: 0 },
      scales: {
        x: { type: 'linear', min: 0, max: xMax, display: false },
        y: { type: 'linear', min: 0, max: yMax, reverse: true, display: false }
      }
    },
    plugins: [plugin]
  });
}

const groupKeys = Object.keys(groupNodes);
const weakPts = [];
groupKeys.forEach(k => { if (weakEdges[k]) weakPts.push(...linkPoints(groupNodes[k], weakEdges[k])); });
crossEdges.forEach(([a, i, b, j]) => {
  weakPts.push({ x: groupNodes[a][i][0], y: groupNodes[a][i][1] }, { x: groupNodes[b][j][0], y: groupNodes[b][j][1] }, { x: NaN, y: NaN });
});
const strongPts = [];
groupKeys.forEach(k => { if (strongEdges[k]) strongPts.push(...linkPoints(groupNodes[k], strongEdges[k])); });
const dNodes = groupKeys.flatMap(k => groupNodes[k]).map(n => ({ x: n[0], y: n[1], r: n[2], k: n[3] }));

const dSets = moduleOutlines.map(([color, pts]) =>
  lineSet(pts.map(p => ({ x: p[0], y: p[1] })), color, 1.1, { tension: 0.4 }));
dSets.push(lineSet(weakPts, 'rgba(150,125,195,0.6)', 0.7));
dSets.push(lineSet(strongPts, 'rgba(88,48,160,0.85)', 1.2));
dSets.push({ data: dNodes, pointStyle: c => glyph(c.raw.r, c.raw.k), pointRadius: c => c.raw.r, clip: false });

netChart('networkD', 369, 455, 1107, 1365, dSets, {
  id: 'moduleLabels',
  afterDraw(chart) {
    const { ctx, scales: { x, y } } = chart;
    ctx.save();
    ctx.font = '8.3px "Liberation Sans"';
    ctx.textBaseline = 'middle';
    moduleLabels.forEach(([t, lx, ly, color, align]) => {
      ctx.fillStyle = color;
      ctx.textAlign = align;
      ctx.fillText(t, x.getPixelForValue(lx) + (align === 'left' ? 1 : 0), y.getPixelForValue(ly));
    });
    ctx.restore();
  }
});

const clusterSets = [[cluster1, cluster1Links], [cluster2, cluster2Links], [cluster2b, cluster2bLinks], [cluster3, cluster3Links], [cluster4, cluster4Links], [cluster5, cluster5Links], [cluster5b, cluster5bLinks], [cluster6, cluster6Links], [cluster7, cluster7Links], [cluster8, cluster8Links], [cluster9, cluster9Links]];
const ePts = clusterSets.flatMap(([n, l]) => linkPoints(n, l));
bridgeLinks.forEach(([a, b]) => ePts.push({ x: a[0], y: a[1] }, { x: b[0], y: b[1] }, { x: NaN, y: NaN }));
const eNodes = clusterSets.flatMap(([n]) => n).map(n => ({ x: n[0], y: n[1], k: n[2], name: n[3] }));

netChart('networkE', 369, 536, 1107, 1608, [
  lineSet(ePts, 'rgba(140,110,190,0.6)', 0.6),
  { data: eNodes, pointStyle: c => glyph(4.1, c.raw.k), pointRadius: 4.1, clip: false }
], {
  id: 'geneLabels',
  afterDraw(chart) {
    const { ctx, scales: { x, y } } = chart;
    ctx.save();
    ctx.fillStyle = '#111';
    ctx.font = '5.5px "Liberation Sans"';
    ctx.textAlign = 'left';
    ctx.textBaseline = 'middle';
    eNodes.forEach(n => { if (n.name) ctx.fillText(n.name, x.getPixelForValue(n.x) + 4, y.getPixelForValue(n.y)); });
    ctx.font = '10px "Liberation Sans"';
    ctx.textAlign = 'center';
    ctx.strokeStyle = '#222';
    ctx.lineWidth = 1;
    clusterTitles.forEach(([t, tx, ty]) => {
      const px = x.getPixelForValue(tx), py = y.getPixelForValue(ty);
      ctx.fillText(t, px, py);
      ctx.beginPath(); ctx.moveTo(px - 20, py + 5.5); ctx.lineTo(px + 20, py + 5.5); ctx.stroke();
    });
    ctx.restore();
  }
});
</script>
</body>
</html>
